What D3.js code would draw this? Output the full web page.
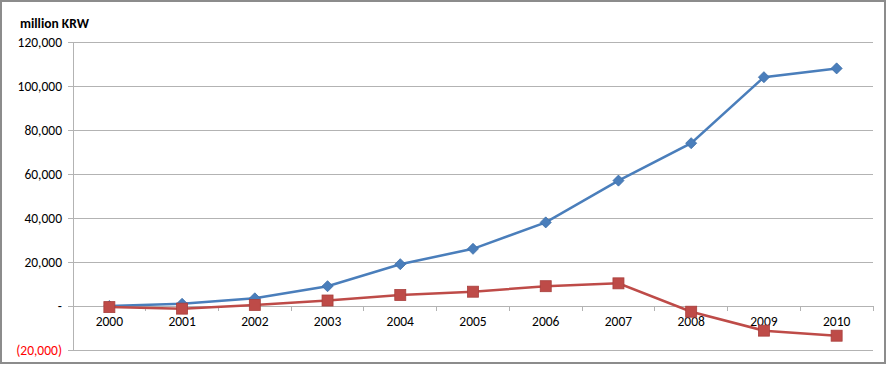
<!DOCTYPE html>
<html><head><meta charset="utf-8">
<script src="https://cdn.jsdelivr.net/npm/d3@7"></script>
<style>body{margin:0;background:#fff}svg{display:block;font-family:Carlito,Lato,"Open Sans",sans-serif}</style>
</head><body><svg id="c" width="888" height="366"></svg>
<script>
const years = ["2000","2001","2002","2003","2004","2005","2006","2007","2008","2009","2010"];
const seriesBlue = [0,1000,3500,9000,19000,26000,38000,57000,74000,104000,108000];
const seriesRed = [-500,-1200,500,2500,5000,6500,9000,10300,-2600,-11200,-13500];
const yTicks = [-20000,0,20000,40000,60000,80000,100000,120000];
const unitLabel = "million KRW";

const svg = d3.select("#c");
const L = 73, R = 873, T = 42, B = 350;
const x = d3.scaleBand().domain(years).range([L, R]);
const y = d3.scaleLinear().domain([-20000,120000]).range([B, T]);

svg.append("rect").attr("x",1).attr("y",1).attr("width",884).attr("height",362)
  .attr("fill","#fff").attr("stroke","#8c8c8c").attr("stroke-width",2);

svg.append("g").selectAll("line").data(yTicks).join("line")
  .attr("x1",L).attr("x2",R).attr("y1",d=>y(d)).attr("y2",d=>y(d))
  .attr("stroke","#b3b3b3").attr("stroke-width",1).attr("shape-rendering","crispEdges");

const fmt = d => d===0 ? "-" : d<0 ? "(" + d3.format(",")(-d) + ")" : d3.format(",")(d);
const ya = svg.append("g").attr("transform",`translate(${L},0)`)
  .call(d3.axisLeft(y).tickValues(yTicks).tickFormat(fmt).tickSize(5).tickPadding(6));
ya.select(".domain").attr("stroke","#b3b3b3");
ya.selectAll(".tick line").attr("stroke","#b3b3b3");
ya.selectAll(".tick text").attr("font-size",13.5).attr("font-family","Carlito,Lato,'Open Sans',sans-serif")
  .attr("fill",d=>d<0?"#ff0000":"#000");

const xa = svg.append("g").attr("transform",`translate(0,${y(0)})`)
  .call(d3.axisBottom(x).tickSize(0).tickPadding(10));
xa.select(".domain").attr("stroke","#b3b3b3");
xa.selectAll(".tick text").attr("font-size",13.5).attr("font-family","Carlito,Lato,'Open Sans',sans-serif").attr("fill","#000");
const bounds = years.map(d=>x(d)).concat([R]);
svg.append("g").selectAll("line").data(bounds).join("line")
  .attr("x1",d=>d).attr("x2",d=>d).attr("y1",y(0)).attr("y2",y(0)+5)
  .attr("stroke","#b3b3b3").attr("shape-rendering","crispEdges");

const cx = d => x(d) + x.bandwidth()/2;
const line = d3.line().x((d,i)=>cx(years[i])).y(d=>y(d));

svg.append("path").datum(seriesBlue).attr("d",line).attr("fill","none")
  .attr("stroke","#4a7ebb").attr("stroke-width",2.5);
svg.append("path").datum(seriesRed).attr("d",line).attr("fill","none")
  .attr("stroke","#be4b48").attr("stroke-width",2.5);

svg.append("g").selectAll("path").data(seriesBlue).join("path")
  .attr("d",d3.symbol(d3.symbolDiamond2,78)())
  .attr("transform",(d,i)=>`translate(${cx(years[i])},${y(d)})`)
  .attr("fill","#4a7ebb").attr("stroke","#3d6ea8").attr("stroke-width",0.8);
svg.append("g").selectAll("rect").data(seriesRed).join("rect")
  .attr("x",(d,i)=>cx(years[i])-5.5).attr("y",d=>y(d)-5.5).attr("width",11).attr("height",11)
  .attr("fill","#be4b48").attr("stroke","#a83f3c").attr("stroke-width",0.8);

svg.append("text").attr("x",20).attr("y",28).text(unitLabel)
  .attr("font-size",13.5).attr("font-weight","bold").attr("fill","#000");
</script></body></html>
